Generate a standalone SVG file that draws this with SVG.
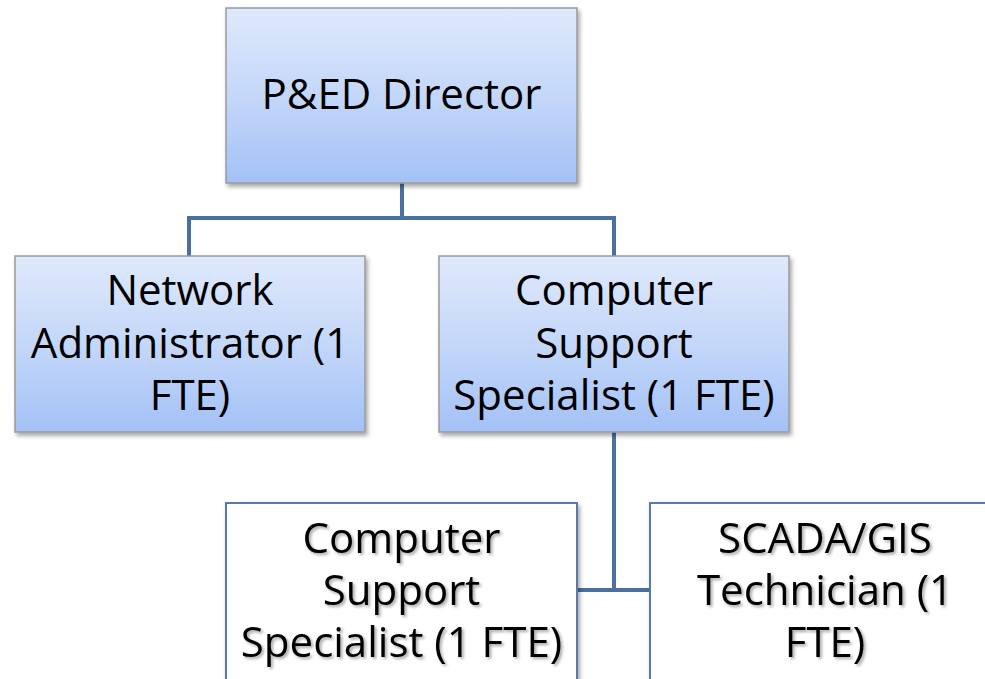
<svg xmlns="http://www.w3.org/2000/svg" width="985" height="679" viewBox="0 0 985 679">
  <style>
    .lbl { font-family: "Open Sans", "Liberation Sans", sans-serif; font-size: 42px; fill: #000; text-anchor: middle; }
    .box { fill: url(#blueFill); stroke: #9a9a9a; stroke-width: 1.5; filter: url(#boxShadow); }
    .plain { fill: #fff; stroke: #5a7aa6; stroke-width: 2; filter: url(#boxShadow); }
    .shadowed { filter: url(#textShadow); }
    .wire { fill: none; stroke: #4a70a0; stroke-width: 4; }
  </style>
  <defs>
    <linearGradient id="blueFill" x1="0" y1="0" x2="0" y2="1">
      <stop offset="0" stop-color="#dfe9fb"/>
      <stop offset="0.5" stop-color="#c4d7f9"/>
      <stop offset="1" stop-color="#a3c1f6"/>
    </linearGradient>
    <filter id="boxShadow" x="-5%" y="-5%" width="115%" height="120%">
      <feDropShadow dx="2" dy="3" stdDeviation="2" flood-color="#000" flood-opacity="0.35"/>
    </filter>
    <filter id="textShadow" x="-5%" y="-10%" width="115%" height="130%">
      <feDropShadow dx="2" dy="2" stdDeviation="1.5" flood-color="#000" flood-opacity="0.35"/>
    </filter>
  </defs>

  <rect width="985" height="679" fill="#fff"/>

  <g id="connectors">
    <path class="wire" d="M402 183 V218 M189 218 H614 M189 216 V256 M614 216 V256"/>
    <path class="wire" d="M614 432 V590 M578 590 H650"/>
  </g>

  <g id="director">
    <rect class="box" x="226" y="8" width="351" height="175"/>
    <text class="lbl" x="401.5" y="109">P&amp;ED Director</text>
  </g>

  <g id="network-admin">
    <rect class="box" x="15" y="256" width="350" height="176"/>
    <text class="lbl" x="190" y="305">Network</text>
    <text class="lbl" x="190" y="358">Administrator (1</text>
    <text class="lbl" x="190" y="410">FTE)</text>
  </g>

  <g id="support-specialist">
    <rect class="box" x="439" y="256" width="350" height="176"/>
    <text class="lbl" x="614" y="305">Computer</text>
    <text class="lbl" x="614" y="358">Support</text>
    <text class="lbl" x="614" y="410">Specialist (1 FTE)</text>
  </g>

  <g id="support-specialist-2">
    <rect class="plain" x="226" y="503" width="351" height="200"/>
    <g class="shadowed">
      <text class="lbl" x="401.5" y="553">Computer</text>
      <text class="lbl" x="401.5" y="605">Support</text>
      <text class="lbl" x="401.5" y="657">Specialist (1 FTE)</text>
    </g>
  </g>

  <g id="scada-gis">
    <rect class="plain" x="650" y="503" width="360" height="200"/>
    <g class="shadowed">
      <text class="lbl" x="825" y="553">SCADA/GIS</text>
      <text class="lbl" x="825" y="605">Technician (1</text>
      <text class="lbl" x="825" y="657">FTE)</text>
    </g>
  </g>
</svg>
